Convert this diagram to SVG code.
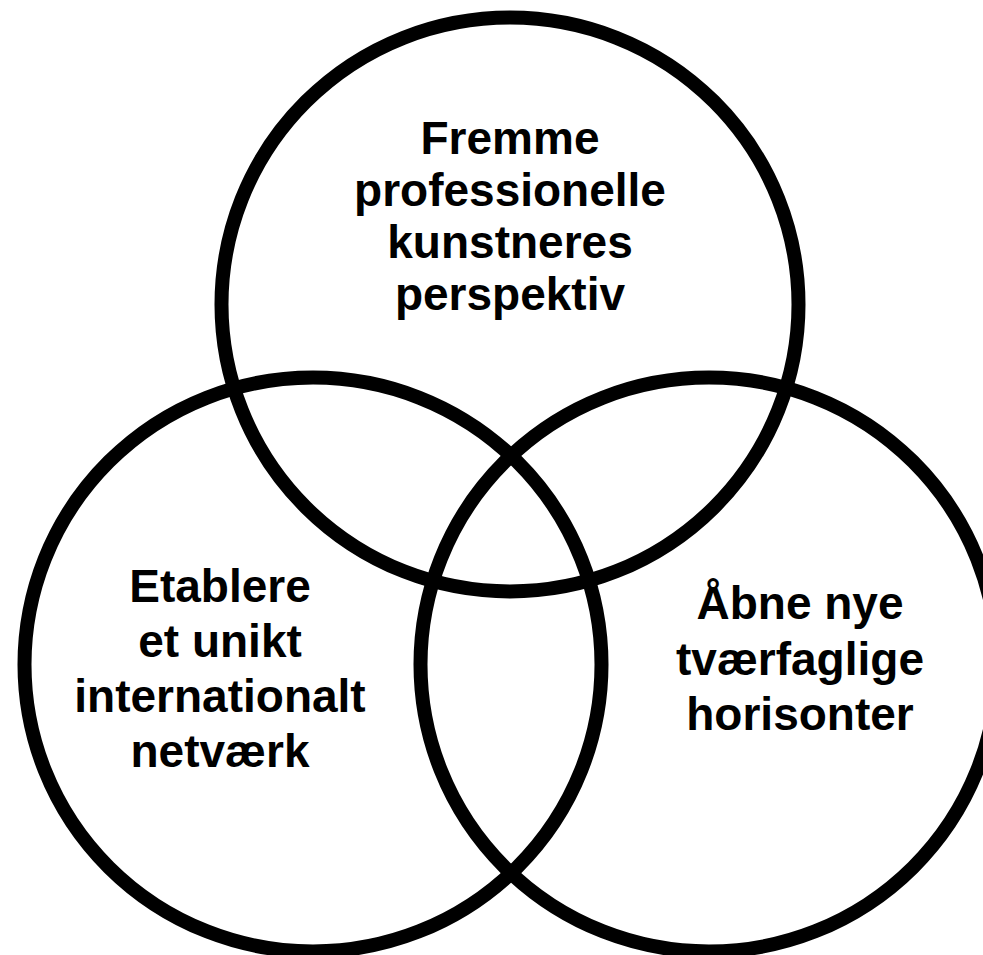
<svg xmlns="http://www.w3.org/2000/svg" width="983" height="955" viewBox="0 0 983 955">
<style>
.c{fill:none;stroke:#000;stroke-width:14}
.t{font-family:"Liberation Sans",Arial,Helvetica,sans-serif;font-weight:bold;font-size:46px;fill:#000;text-anchor:middle}
</style>
<rect width="983" height="955" fill="#fff"/>
<g id="connectors"></g>
<g id="top">
<ellipse class="c" cx="510" cy="304.5" rx="288.5" ry="287"/>
<text class="t" x="510" y="154">Fremme</text>
<text class="t" x="510" y="206">professionelle</text>
<text class="t" x="510" y="258">kunstneres</text>
<text class="t" x="510" y="310">perspektiv</text>
</g>
<g id="left">
<ellipse class="c" cx="313" cy="664.5" rx="288.5" ry="287"/>
<text class="t" x="220" y="602">Etablere</text>
<text class="t" x="220" y="657">et unikt</text>
<text class="t" x="220" y="712">internationalt</text>
<text class="t" x="220" y="767">netværk</text>
</g>
<g id="right">
<ellipse class="c" cx="709" cy="664.5" rx="288.5" ry="287"/>
<text class="t" x="800" y="619">Åbne nye</text>
<text class="t" x="800" y="675">tværfaglige</text>
<text class="t" x="800" y="730">horisonter</text>
</g>
</svg>
